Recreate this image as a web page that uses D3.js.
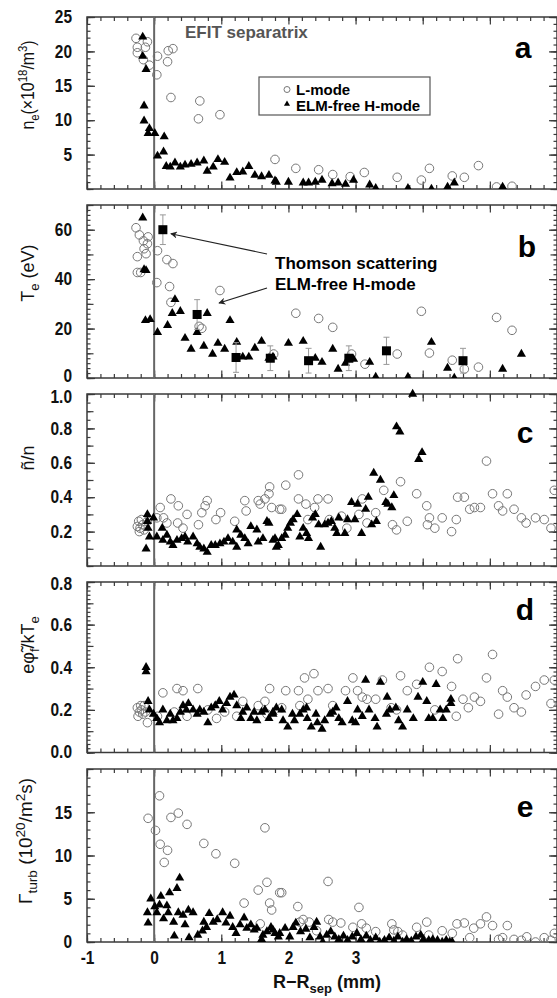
<!DOCTYPE html>
<html><head><meta charset="utf-8">
<script src="https://cdn.jsdelivr.net/npm/d3@7"></script>
<style>
html,body{margin:0;padding:0;background:#fff;}
svg text{font-family:"Liberation Sans Narrow","Arial Narrow","Liberation Sans",sans-serif;}
</style></head>
<body>
<svg id="chart" width="557" height="998"></svg>
<script>
// ---------------- DATA ----------------
const xTickLabels = [-1, 0, 1, 2, 3];
const seriesNames = ["L-mode", "ELM-free H-mode"];

// panel a: n_e (1e18/m^3)
const aL = [[-0.27,21.9],[-0.25,20.6],[-0.25,19.8],[-0.1,21.4],[-0.13,20.6],[-0.16,18.8],[-0.07,18],[0.05,19.3],[0.04,16.6],[0.2,18.5],[0.21,20.1],[0.28,20.4],[0.25,13.3],[0.68,12.8],[0.66,10.2],[0.98,10.8],[1.8,4.3],[2.11,3.0],[2.45,2.8],[2.66,2.1],[2.92,1.8],[3.13,2.4],[3.62,1.7],[3.98,1.3],[4.1,3.0],[4.44,1.9],[4.62,1.7],[4.83,3.4],[5.1,0.3],[5.33,0.4]];
const aH = [[-0.17,22.1],[-0.17,19.3],[-0.12,17.4],[-0.15,12.1],[-0.15,9.9],[-0.07,8.8],[-0.09,8.1],[0.01,8.1],[0.15,7.6],[0.05,4.8],[0.14,5.4],[0.18,3.3],[0.24,3.2],[0.31,3.8],[0.39,3.2],[0.46,3.5],[0.55,3.6],[0.64,3.8],[0.74,4.1],[0.79,2.6],[0.88,3.2],[0.95,4.3],[1.05,3.9],[1.13,1.6],[1.23,2.4],[1.32,2.5],[1.41,3.3],[1.5,2.0],[1.6,1.8],[1.71,2.0],[1.8,1.2],[1.82,1.0],[2.0,1.0],[2.22,0.9],[2.3,0.9],[2.4,1.0],[2.5,1.3],[2.65,0.8],[2.74,0.9],[2.85,0.7],[2.97,1.3],[3.21,0.6],[3.3,0.1],[3.78,0.1],[4.13,0.0],[4.37,0.3],[4.47,0.9],[5.19,0.3]];

// panel b: T_e (eV)
const bL = [[-0.27,60.8],[-0.22,57.9],[-0.16,55.5],[-0.09,57.1],[-0.1,54.3],[-0.15,52.3],[-0.12,50.3],[-0.25,49.1],[-0.25,42.7],[-0.2,42.7],[0.05,51.5],[0.19,47.9],[0.28,46.3],[0.04,38.6],[0.23,37],[0.25,30.6],[0.67,20.9],[0.71,20.1],[0.98,35.4],[1.78,9.7],[2.11,26.2],[2.45,24.1],[2.66,20.5],[2.94,9.7],[3.14,5.6],[3.62,9.7],[3.98,27.0],[4.1,10.1],[4.44,7.2],[4.62,3.6],[4.83,4.4],[5.1,24.5],[5.33,19.3]];
const bH = [[-0.17,64.8],[-0.15,43.9],[-0.12,43.5],[-0.13,23.3],[-0.06,23.7],[0.05,18.5],[0.2,21.3],[0.31,31.8],[0.27,26.2],[0.39,27],[0.46,16.1],[0.55,11.7],[0.64,18.5],[0.74,12.9],[0.79,26.2],[0.87,9.7],[0.95,14.1],[1.05,11.7],[1.13,23.3],[1.23,14.5],[1.32,8.5],[1.41,8.5],[1.5,12.1],[1.6,14.9],[1.71,8.0],[1.77,8.5],[2.0,14.1],[2.22,14.9],[2.4,8.0],[2.5,6.4],[2.66,11.7],[2.74,3.6],[2.85,6.0],[2.97,7.6],[3.21,6.4],[3.3,0.4],[3.78,0.4],[4.13,14.5],[4.37,4.0],[4.47,0],[5.19,3.6],[5.47,9.7]];
// Thomson scattering (x, Te, error)
const bTS = [[0.13,60,6],[0.64,25.7,6],[1.22,8.3,6],[1.73,8,5],[2.3,7,5],[2.9,8,5],[3.46,11,5.5],[4.6,7,5]];

// panel c: n~/n
const cL = [[-0.23,0.26],[-0.21,0.22],[-0.22,0.2],[-0.17,0.24],[-0.15,0.21],[-0.1,0.26],[-0.19,0.27],[-0.25,0.23],[0.09,0.34],[0.04,0.28],[0.14,0.28],[0.19,0.25],[0.25,0.39],[0.36,0.35],[0.35,0.25],[0.43,0.22],[0.49,0.3],[0.66,0.24],[0.71,0.31],[0.76,0.35],[0.79,0.38],[0.92,0.27],[0.99,0.31],[1.2,0.26],[1.35,0.38],[1.37,0.32],[1.55,0.38],[1.58,0.36],[1.65,0.39],[1.71,0.42],[1.72,0.46],[1.75,0.34],[1.87,0.33],[1.96,0.47],[1.9,0.33],[2.15,0.53],[2.15,0.39],[2.26,0.36],[2.39,0.34],[2.44,0.39],[2.59,0.39],[2.29,0.27],[2.61,0.27],[2.79,0.29],[2.87,0.22],[3.05,0.3],[3.1,0.39],[3.17,0.25],[3.3,0.31],[3.42,0.44],[3.55,0.24],[3.61,0.21],[3.67,0.49],[3.77,0.26],[3.91,0.42],[4.06,0.35],[4.1,0.28],[4.07,0.24],[4.18,0.22],[4.29,0.28],[4.43,0.2],[4.5,0.27],[4.52,0.4],[4.62,0.4],[4.7,0.33],[4.77,0.34],[4.86,0.34],[4.95,0.61],[5.04,0.42],[5.13,0.35],[5.19,0.32],[5.26,0.42],[5.36,0.33],[5.47,0.28],[5.54,0.25],[5.68,0.28],[5.81,0.27],[5.91,0.22],[5.96,0.44]];
const cH = [[-0.1,0.3],[-0.1,0.26],[-0.12,0.1],[-0.09,0.22],[-0.07,0.17],[-0.01,0.28],[0.04,0.17],[0.12,0.22],[0.13,0.15],[0.19,0.18],[0.24,0.14],[0.28,0.12],[0.34,0.15],[0.41,0.16],[0.46,0.17],[0.5,0.14],[0.58,0.17],[0.64,0.13],[0.68,0.11],[0.74,0.1],[0.79,0.08],[0.85,0.12],[0.91,0.12],[0.98,0.13],[1.04,0.14],[1.1,0.16],[1.17,0.14],[1.23,0.21],[1.23,0.11],[1.29,0.18],[1.35,0.16],[1.4,0.13],[1.44,0.23],[1.53,0.21],[1.55,0.14],[1.62,0.16],[1.68,0.26],[1.71,0.25],[1.8,0.16],[1.85,0.12],[1.77,0.15],[1.82,0.11],[1.9,0.16],[1.95,0.18],[1.99,0.22],[2.03,0.25],[2.07,0.27],[2.13,0.3],[2.17,0.17],[2.22,0.22],[2.27,0.19],[2.3,0.16],[2.36,0.28],[2.4,0.3],[2.45,0.24],[2.48,0.11],[2.54,0.24],[2.59,0.25],[2.64,0.26],[2.69,0.22],[2.72,0.19],[2.75,0.28],[2.84,0.19],[2.88,0.27],[2.94,0.37],[2.99,0.27],[3.03,0.36],[3.09,0.19],[3.15,0.33],[3.19,0.4],[3.24,0.24],[3.31,0.26],[3.27,0.54],[3.37,0.5],[3.45,0.37],[3.48,0.36],[3.54,0.34],[3.57,0.41],[3.61,0.81],[3.66,0.78],[3.94,0.62],[3.99,0.66],[3.85,1.0]];

// panel d: e phi~ / kTe
const dL = [[-0.25,0.21],[-0.22,0.19],[-0.24,0.17],[-0.19,0.2],[-0.17,0.18],[-0.13,0.19],[-0.2,0.22],[-0.1,0.14],[-0.15,0.22],[0.13,0.28],[0.34,0.3],[0.43,0.29],[0.65,0.3],[1.32,0.24],[1.55,0.22],[1.65,0.24],[1.72,0.3],[0.49,0.17],[0.93,0.16],[1.23,0.17],[1.68,0.18],[0.05,0.17],[0.3,0.19],[0.8,0.2],[1.05,0.19],[1.96,0.29],[2.15,0.29],[2.24,0.35],[2.38,0.37],[2.44,0.29],[2.59,0.3],[2.85,0.29],[2.96,0.35],[3.03,0.29],[3.1,0.26],[3.17,0.25],[3.3,0.25],[3.4,0.34],[3.53,0.21],[3.61,0.2],[3.67,0.36],[3.77,0.29],[3.91,0.32],[4.1,0.4],[4.18,0.2],[4.29,0.38],[4.43,0.31],[4.52,0.44],[4.5,0.17],[4.6,0.25],[4.68,0.21],[4.77,0.26],[4.86,0.24],[4.95,0.35],[5.04,0.46],[5.13,0.18],[5.19,0.29],[5.26,0.26],[5.36,0.21],[5.47,0.19],[5.54,0.27],[5.68,0.31],[5.81,0.34],[5.91,0.23],[5.96,0.34],[1.9,0.21],[2.17,0.22],[2.29,0.25],[2.66,0.22]];
const dH = [[-0.12,0.4],[-0.12,0.38],[-0.09,0.24],[-0.07,0.2],[-0.01,0.18],[0.04,0.16],[0.08,0.14],[0.13,0.2],[0.19,0.15],[0.24,0.18],[0.28,0.15],[0.34,0.16],[0.39,0.19],[0.43,0.22],[0.48,0.2],[0.51,0.23],[0.58,0.2],[0.64,0.18],[0.68,0.2],[0.74,0.19],[0.8,0.14],[0.85,0.21],[0.91,0.22],[0.97,0.24],[1.02,0.2],[1.08,0.23],[1.13,0.26],[1.19,0.27],[1.23,0.22],[1.29,0.16],[1.32,0.19],[1.38,0.21],[1.44,0.16],[1.49,0.19],[1.53,0.15],[1.6,0.19],[1.65,0.2],[1.71,0.16],[1.77,0.19],[1.82,0.21],[1.77,0.18],[1.9,0.2],[1.92,0.15],[1.99,0.12],[2.06,0.18],[2.09,0.15],[2.17,0.18],[2.22,0.2],[2.27,0.21],[2.28,0.16],[2.34,0.12],[2.41,0.18],[2.43,0.14],[2.5,0.11],[2.54,0.15],[2.62,0.18],[2.66,0.19],[2.71,0.21],[2.75,0.16],[2.8,0.14],[2.88,0.24],[2.95,0.15],[3.0,0.14],[3.03,0.2],[3.1,0.17],[3.15,0.34],[3.2,0.2],[3.29,0.16],[3.32,0.12],[3.37,0.33],[3.47,0.26],[3.46,0.18],[3.51,0.2],[3.6,0.21],[3.64,0.15],[3.7,0.12],[3.77,0.2],[3.86,0.16],[3.93,0.26],[4.0,0.33],[4.06,0.24],[4.09,0.16],[4.15,0.16],[4.2,0.32],[4.26,0.2],[4.3,0.16],[4.35,0.2],[4.42,0.25],[4.42,0.23]];

// panel e: Gamma_turb (1e20/m^2 s)
const eL = [[-0.09,14.3],[0.02,12.9],[0.08,16.9],[0.09,11.3],[0.2,10.6],[0.15,9.2],[0.25,14.4],[0.36,14.9],[0.49,13.6],[0.74,11.4],[0.92,10.2],[1.2,9.1],[1.34,4.5],[1.55,6],[1.65,13.2],[1.68,6.9],[1.72,4.5],[1.75,3.7],[1.87,5.7],[1.58,2.1],[1.9,5.7],[2.14,4.1],[2.17,2.3],[2.22,2.6],[2.31,2.3],[2.59,7.0],[2.6,2.6],[2.66,2.3],[2.78,2.2],[2.96,1.7],[3.05,4.0],[3.09,2.1],[3.16,1.6],[3.3,1.2],[3.54,2.1],[3.57,1.4],[3.63,1.2],[3.7,0.8],[3.91,1.7],[4.06,2.3],[4.09,0.8],[4.29,1.3],[4.44,1.0],[4.51,2.1],[4.62,2.2],[4.7,0.5],[4.76,1.6],[4.86,2.1],[4.95,2.9],[5.04,1.9],[5.13,0.3],[5.19,0.5],[5.26,1.9],[5.36,0.3],[5.47,0.2],[5.55,0.6],[5.68,0.0],[5.81,0.5],[5.91,0.2],[5.96,1.0],[2.42,1.3]];
const eH = [[-0.1,3.4],[-0.09,2.2],[-0.05,5.0],[0.01,4.1],[0.04,3.4],[0.08,4.3],[0.1,5.3],[0.14,2.7],[0.19,4.2],[0.21,3.4],[0.23,5.7],[0.29,2.3],[0.3,0.7],[0.34,6.2],[0.38,7.4],[0.36,3.4],[0.43,3.1],[0.46,2.0],[0.51,3.7],[0.52,0.5],[0.58,3.4],[0.65,0.8],[0.72,1.3],[0.74,2.3],[0.78,1.7],[0.82,3.3],[0.88,2.3],[0.94,2.6],[1.02,3.4],[1.07,2.2],[1.13,3.0],[1.17,1.7],[1.22,1.0],[1.28,2.0],[1.34,2.8],[1.38,1.6],[1.44,2.0],[1.49,1.4],[1.53,1.6],[1.6,0.3],[1.62,0.8],[1.68,1.2],[1.74,1.7],[1.8,1.0],[1.85,0.6],[1.77,1.4],[1.87,1.0],[1.95,1.6],[2.02,0.6],[2.07,1.7],[2.11,2.2],[2.18,1.2],[2.26,1.5],[2.32,0.5],[2.38,1.7],[2.42,2.3],[2.47,0.6],[2.51,0.0],[2.57,0.8],[2.63,1.2],[2.69,0.6],[2.75,0.3],[2.82,0.7],[2.88,0.2],[2.95,0.6],[3.02,1.0],[3.08,0.3],[3.16,0.7],[3.22,0.2],[3.3,0.5],[3.36,0.0],[3.43,0.2],[3.5,0.5],[3.57,0.1],[3.63,0.6],[3.7,0.0],[3.76,0.3],[3.83,0.1],[3.9,0.6],[3.97,0.8],[4.01,0.3],[4.09,0.2],[4.15,0.3],[4.22,0.2],[4.29,0.0],[4.35,0.2],[4.4,0.0],[4.44,0.0]];

// ---------------- LAYOUT ----------------
const L = 87, R = 557;
const panels = [
  {key:"a", top:17,  bottom:189,   domain:[0,25],  major:5,   minor:1,    labels:[5,10,15,20,25], fmt:d3.format("d"),  L:aL, H:aH, letter:"a", lx:523, ly:58,  ty:85},
  {key:"b", top:205, bottom:378,   domain:[0,70],  major:10,  minor:2,    labels:[0,20,40,60],    fmt:d3.format("d"),  L:bL, H:bH, letter:"b", lx:527, ly:257, ty:273},
  {key:"c", top:394, bottom:566,   domain:[0,1],   major:0.1, minor:0.05, labels:[0.2,0.4,0.6,0.8,1.0], fmt:d3.format(".1f"), L:cL, H:cH, letter:"c", lx:525, ly:443, ty:458},
  {key:"d", top:582, bottom:752.5, domain:[0,0.8], major:0.1, minor:0.02, labels:[0,0.2,0.4,0.6,0.8], fmt:d3.format(".1f"), L:dL, H:dH, letter:"d", lx:525, ly:620, ty:645},
  {key:"e", top:769, bottom:942,   domain:[0,20],  major:5,   minor:1,    labels:[0,5,10,15],     fmt:d3.format("d"),  L:eL, H:eH, letter:"e", lx:525, ly:817, ty:841}
];

const svg = d3.select("#chart");
const x = d3.scaleLinear().domain([-1,6]).range([L,R]);
const frameCol = "#3a3a3a";
const circCol = "#777";
const tri = d3.symbol().type(d3.symbolTriangle).size(36);
const SX = 0.86; // horizontal condensing of tick labels

function rangeTicks(dom, step){
  const n = Math.round((dom[1]-dom[0])/step);
  return d3.range(n+1).map(i => +(dom[0] + i*step).toFixed(4));
}

function styleAxis(g){
  g.select(".domain").remove();
  g.selectAll(".tick line").attr("stroke", frameCol).attr("stroke-width", 1.2);
  g.selectAll(".tick text").attr("fill","#111").attr("font-size","18px").attr("font-weight","bold");
}
function condenseLeft(g){
  g.selectAll(".tick text").each(function(){
    const t = d3.select(this);
    const xv = +t.attr("x");
    t.attr("x",0).attr("transform",`translate(${xv},0) scale(${SX},1)`);
  });
}

panels.forEach(p => {
  const y = d3.scaleLinear().domain(p.domain).range([p.bottom, p.top]);
  p.y = y;
  const g = svg.append("g");
  const clipId = "clip-"+p.key;
  svg.append("clipPath").attr("id", clipId).append("rect")
    .attr("x", L).attr("y", p.top-6).attr("width", R-L).attr("height", p.bottom-p.top+6);

  const minorY = rangeTicks(p.domain, p.minor);
  const majorY = rangeTicks(p.domain, p.major);
  const minorX = rangeTicks([-1,6], 0.2);
  const majorX = rangeTicks([-1,6], 1);

  // left axis: minor, major, labels
  g.append("g").attr("transform",`translate(${L},0)`).call(d3.axisLeft(y).tickValues(minorY).tickSize(-3.5).tickFormat("")).call(styleAxis);
  g.append("g").attr("transform",`translate(${L},0)`).call(d3.axisLeft(y).tickValues(majorY).tickSize(-6.5).tickFormat("")).call(styleAxis);
  const lab = g.append("g").attr("transform",`translate(${L},0)`)
    .call(d3.axisLeft(y).tickValues(p.labels).tickSize(-8).tickPadding(15).tickFormat(p.fmt)).call(styleAxis).call(condenseLeft);
  // nudge labels that sit at shared panel borders
  lab.selectAll(".tick text").attr("dy", d => {
    if (p.key==="b" && d===0) return "0.22em";
    if (p.key==="c" && d===1) return "0.45em";
    if (p.key==="d" && d===0) return "0.25em";
    if (p.key==="d" && d===0.8) return "0.4em";
    return "0.32em";
  });
  // right axis
  g.append("g").attr("transform",`translate(${R},0)`).call(d3.axisRight(y).tickValues(minorY).tickSize(-3.5).tickFormat("")).call(styleAxis);
  g.append("g").attr("transform",`translate(${R},0)`).call(d3.axisRight(y).tickValues(majorY).tickSize(-6.5).tickFormat("")).call(styleAxis);
  g.append("g").attr("transform",`translate(${R},0)`).call(d3.axisRight(y).tickValues(p.labels).tickSize(-8).tickFormat("")).call(styleAxis);
  // top axis
  g.append("g").attr("transform",`translate(0,${p.top})`).call(d3.axisTop(x).tickValues(minorX).tickSize(-4).tickFormat("")).call(styleAxis);
  g.append("g").attr("transform",`translate(0,${p.top})`).call(d3.axisTop(x).tickValues(majorX).tickSize(-7.5).tickFormat("")).call(styleAxis);
  // bottom axis
  g.append("g").attr("transform",`translate(0,${p.bottom})`).call(d3.axisBottom(x).tickValues(minorX).tickSize(-4).tickFormat("")).call(styleAxis);
  const bx = g.append("g").attr("transform",`translate(0,${p.bottom})`)
    .call(d3.axisBottom(x).tickValues(majorX).tickSize(-7.5).tickPadding(9)
      .tickFormat(d => (p.key==="e" && xTickLabels.includes(d)) ? String(d) : ""))
    .call(styleAxis);
  bx.selectAll(".tick text").attr("transform",`scale(${SX},1)`).attr("x", function(){ return 0; });

  // frame
  g.append("rect").attr("x",L).attr("y",p.top).attr("width",R-L).attr("height",p.bottom-p.top)
    .attr("fill","none").attr("stroke",frameCol).attr("stroke-width",1.5);
  // separatrix line
  g.append("line").attr("x1",x(0)).attr("x2",x(0)).attr("y1",p.top).attr("y2",p.bottom)
    .attr("stroke","#666").attr("stroke-width",2);

  const pg = g.append("g").attr("clip-path",`url(#${clipId})`);
  // L-mode circles
  pg.selectAll("circle.l").data(p.L).join("circle").attr("class","l")
    .attr("cx",d=>x(d[0])).attr("cy",d=>y(d[1])).attr("r",4.3)
    .attr("fill","none").attr("stroke",circCol).attr("stroke-width",1);
  // H-mode triangles
  pg.selectAll("path.h").data(p.H).join("path").attr("class","h")
    .attr("d",tri).attr("transform",d=>`translate(${x(d[0])},${y(d[1])})`).attr("fill","#000");

  // panel letter
  g.append("text").attr("x",p.lx).attr("y",p.ly).attr("text-anchor","middle")
    .attr("font-size","30px").attr("font-weight","bold").attr("fill","#000").text(p.letter);
});

// Thomson scattering squares with error bars (panel b)
{
  const p = panels[1], y = p.y;
  const tg = svg.append("g");
  const eb = tg.selectAll("g.eb").data(bTS).join("g").attr("class","eb");
  eb.append("line").attr("x1",d=>x(d[0])).attr("x2",d=>x(d[0])).attr("y1",d=>y(d[1]-d[2])).attr("y2",d=>y(d[1]+d[2]))
    .attr("stroke","#999").attr("stroke-width",1);
  [1,-1].forEach(s => eb.append("line").attr("x1",d=>x(d[0])-3).attr("x2",d=>x(d[0])+3)
    .attr("y1",d=>y(d[1]+s*d[2])).attr("y2",d=>y(d[1]+s*d[2])).attr("stroke","#999").attr("stroke-width",1));
  eb.append("rect").attr("x",d=>x(d[0])-4.5).attr("y",d=>y(d[1])-4.5).attr("width",9).attr("height",9).attr("fill","#000");

  // annotation
  const defs = svg.append("defs");
  defs.append("marker").attr("id","arr").attr("viewBox","0 0 10 10").attr("refX",9).attr("refY",5)
    .attr("markerWidth",9).attr("markerHeight",7).attr("orient","auto").attr("markerUnits","userSpaceOnUse")
    .append("path").attr("d","M0,0 L10,5 L0,10 L3,5 Z").attr("fill","#222");
  tg.append("line").attr("x1",267).attr("y1",254).attr("x2",x(bTS[0][0])+8).attr("y2",y(bTS[0][1])+4)
    .attr("stroke","#222").attr("stroke-width",1.2).attr("marker-end","url(#arr)");
  tg.append("line").attr("x1",267).attr("y1",288).attr("x2",219).attr("y2",303)
    .attr("stroke","#222").attr("stroke-width",1.2).attr("marker-end","url(#arr)");
  tg.append("text").attr("x",275).attr("y",269).attr("font-size","17px").attr("font-weight","bold").text("Thomson scattering");
  tg.append("text").attr("x",275).attr("y",290).attr("font-size","17px").attr("font-weight","bold").text("ELM-free H-mode");
}

// EFIT separatrix label
svg.append("text").attr("x",185).attr("y",38).attr("font-size","17px").attr("font-weight","bold").attr("fill","#555").text("EFIT separatrix");

// legend (panel a)
{
  const lg = svg.append("g");
  lg.append("rect").attr("x",259).attr("y",77).attr("width",171).attr("height",38)
    .attr("fill","#fff").attr("stroke","#555").attr("stroke-width",1.2);
  lg.append("circle").attr("cx",287).attr("cy",89.5).attr("r",3).attr("fill","none").attr("stroke",circCol);
  lg.append("path").attr("d",d3.symbol().type(d3.symbolTriangle).size(16)).attr("transform","translate(287,104)").attr("fill","#000");
  lg.append("text").attr("x",296).attr("y",95).attr("font-size","15px").attr("font-weight","bold").text(seriesNames[0]);
  lg.append("text").attr("x",296).attr("y",111).attr("font-size","15px").attr("font-weight","bold").text(seriesNames[1]);
}

// y-axis titles
function ytitle(p, parts, xpos, sc){
  const t = svg.append("text").attr("transform",`translate(${xpos},${p.ty}) rotate(-90) scale(${sc},1)`)
    .attr("text-anchor","middle").attr("font-size","18px").attr("fill","#111");
  parts.forEach(([s, k]) => {
    const ts = t.append("tspan").text(s);
    if (k==="sub") ts.attr("font-size","13px").attr("dy","5");
    else if (k==="sup") ts.attr("font-size","13px").attr("dy","-7");
    else if (k==="subEnd") ts.attr("dy","-5");
    else if (k==="supEnd") ts.attr("dy","7");
  });
}
ytitle(panels[0], [["n"],["e","sub"],["(\u00d710","subEnd"],["18","sup"],["/m","supEnd"],["3","sup"],[")","supEnd"]], 34, 0.88);
ytitle(panels[1], [["T"],["e","sub"],[" (eV)","subEnd"]], 34, 1);
ytitle(panels[2], [["\u00f1/n"]], 34, 1);
ytitle(panels[3], [["e\u03c6\u0303"],["f","sub"],["/kT","subEnd"],["e","sub"]], 34, 1);
ytitle(panels[4], [["\u0393"],["turb","sub"],[" (10","subEnd"],["20","sup"],["/m","supEnd"],["2","sup"],["s)","supEnd"]], 32, 1.05);

// x-axis title
{
  const t = svg.append("text").attr("x",327).attr("y",988).attr("text-anchor","middle")
    .attr("font-size","18px").attr("font-weight","bold").attr("fill","#111");
  t.append("tspan").text("R\u2212R");
  t.append("tspan").attr("font-size","13px").attr("dy","5").text("sep");
  t.append("tspan").attr("dy","-5").text(" (mm)");
}
</script>
</body></html>
